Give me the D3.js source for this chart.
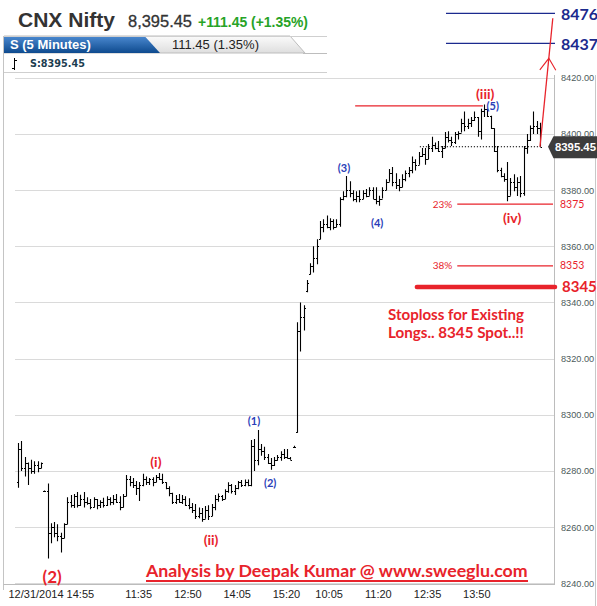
<!DOCTYPE html>
<html><head><meta charset="utf-8">
<script src="https://cdn.jsdelivr.net/npm/d3@7"></script>
<style>html,body{margin:0;padding:0;background:#fff;overflow:hidden}svg{display:block}</style>
</head><body><svg id="c" width="597" height="606"></svg>
<script>
// ---------- data ----------
const tickLabels = ["12/31/2014 14:55","11:35","12:50","14:05","15:20","10:05","11:20","12:35","13:50"];
const tickIndex  = [0,36,51,66,81,94,109,124,139];
const yTicks = [8240,8260,8280,8300,8320,8340,8360,8380,8400,8420];

const opens = [
8276,8288,8281,8283,8281,8280,8282,8281,8272.8,8272.8,
8258,8260,8258,8257,8256,8261,8269,8268,8271,8268,
8270,8269,8268.5,8267,8270,8268,8269,8268,8270,8269,
8270,8269,8267,8271,8277,8276,8275,8274,8275,8277,
8276,8277,8276,8278,8277,8276,8274,8272,8269,8270,
8269,8270,8268,8267,8266,8264,8265,8263,8266,8264,
8267,8270,8271,8270,8273,8275,8273,8274,8276,8275,
8276,8275,8289,8284,8288,8287,8285,8283,8282,8284,
8285,8286,8285,8284.5,8288.7,8294,8330,8335,8344,8350,
8353,8356,8362.5,8367,8368,8367,8369,8367,8368,8377,
8378,8380,8379,8377,8378,8377,8379,8378,8380,8377,
8376,8377,8380,8383,8386,8383,8382,8381,8384,8386,
8387,8390,8389,8392,8393,8391,8395,8396,8395,8394,
8395,8399,8398,8397,8400,8400.5,8404,8403,8404,8405,
8406,8401,8408,8409,8406.5,8402,8394,8387,8385,8384,
8378,8383,8381,8383,8379,8395,8398,8402,8403,8402];
const highs = [
8290,8290.7,8285,8283,8284,8283.5,8283.5,8283,8273,8275.5,
8261.4,8261.8,8261,8258,8261.4,8270.6,8271.4,8271.8,8272.5,8271.5,
8272.5,8270.6,8270,8270.6,8270,8269.6,8270.5,8271,8270.6,8271.4,
8271.8,8271,8271.8,8278.6,8278.2,8277.5,8276.4,8276.1,8279,8278,
8277.5,8277.8,8278.6,8279.3,8279,8276,8274.6,8272.2,8271.4,8271.8,
8271.4,8271,8270.3,8268.6,8268.2,8267,8266.8,8267.5,8267.8,8268.2,
8271.4,8272,8271.4,8273.5,8276,8275.4,8275,8276.4,8276.8,8277,
8277,8291,8291.4,8294.6,8289.6,8288.6,8286,8284.6,8285,8285.7,
8287,8287.8,8287.8,8285,8289,8333,8340,8339,8348,8354,
8360,8362.5,8369,8369.6,8371,8370,8369.6,8369.6,8377.5,8379.6,
8385,8383.2,8380,8379.6,8380,8380,8380.4,8381,8381,8381,
8378,8381,8383.9,8387.5,8388.2,8386,8384,8385.7,8387,8388.2,
8392,8391,8393.6,8395,8395,8396.4,8399,8397,8397.5,8395.7,
8400.7,8401,8399,8400.7,8401,8405.4,8408,8405.4,8406,8408,
8406,8409,8410.5,8409,8406.5,8402,8395.7,8388,8386,8390,
8384.3,8385.7,8384.6,8385,8395.7,8400,8403,8408,8404.6,8404];
const lows = [
8274,8280,8278,8275,8279,8279,8279.5,8281,8272.6,8248.8,
8254.3,8256.4,8255,8251,8256,8261,8267,8266.8,8267,8267.5,
8267,8268,8266.4,8267,8266.4,8266.8,8267,8267.5,8267.8,8268,
8268.6,8266,8267,8271,8274.6,8273.9,8271.4,8269.3,8274.6,8275,
8275,8274.6,8276,8276.8,8275.4,8273.5,8271,8268.2,8268.2,8268.6,
8268.2,8267.5,8266.4,8265,8262.9,8263.2,8261.9,8263,8262.5,8264,
8266,8269,8269.3,8270,8272.2,8272,8271.4,8273.5,8274.3,8274.6,
8274.6,8274.6,8280,8282,8285.4,8283.9,8282.5,8280.4,8281.8,8283.6,
8283.6,8284.3,8284.4,8284,8288.5,8293.6,8322.5,8330,8343.6,8350,
8350.7,8353.6,8362.5,8365,8366.4,8365.7,8366,8366.8,8367,8376.4,
8377.5,8377.5,8376,8375.7,8375.7,8376.8,8377.5,8378,8376.8,8375,
8374.4,8377,8380,8383,8381.4,8380.4,8379.6,8381,8383.2,8384.6,
8386,8387,8389,8391.8,8389,8391,8393.6,8394.6,8393.6,8391.4,
8395,8397,8395.7,8396.4,8398,8400.5,8401,8401.8,8402.5,8404.6,
8399,8398,8406,8406,8401.8,8393.6,8386.4,8384.6,8383,8376,
8378,8379.6,8377.9,8377.5,8378,8393,8397.5,8400,8400,8395.45];
const closes = [
8288,8281,8283,8281,8280,8282,8281,8282.7,8272.8,8258,
8260,8258,8257,8256,8261,8269,8268,8271,8268,8270,
8269,8268.5,8267,8270,8268,8269,8268,8270,8269,8270,
8269,8267,8271,8277,8276,8275,8274,8275,8277,8276,
8277,8276,8278,8277,8276,8274,8272,8269,8270,8269,
8270,8268,8267,8266,8264,8265,8263,8266,8264,8267,
8270,8271,8270,8273,8275,8273,8274,8276,8275,8276,
8275,8289,8284,8288,8287,8285,8283,8282,8284,8285,
8286,8285,8284.5,8284,8288.7,8330,8335,8338,8347,8353,
8356,8360,8367,8368,8367,8369,8367,8368,8377,8378,
8380,8379,8377,8378,8377,8379,8378,8380,8377,8376,
8377,8380,8383,8386,8383,8382,8381,8384,8386,8387,
8390,8389,8392,8393,8391,8395,8396,8395,8394,8395,
8399,8398,8397,8400,8400.5,8404,8403,8404,8405,8406,
8401,8408,8409,8406.5,8402,8394,8387,8385,8384,8378,
8383,8381,8383,8379,8395,8398,8402,8403,8402,8395.45];

const lastPrice = 8395.45;
const changeText = "+111.45 (+1.35%)";
const tabChange = "111.45 (1.35%)";
const waveIIIHigh = 8410;
const fibPct = ["23%","38%"];
const fibVal = [8375,8353];
const stopLoss = 8345;
const targets = [8476,8437];
// wave labels: text, bar index, price level (baseline), colour, size
const waveText  = ["(iii)","(5)","(3)","(4)","(1)","(2)","(i)","(ii)","(2)","(iv)"];
const waveIdx   = [142.3,144.6,99.3,109.4,71.9,76.8,42,58.8,10.4,150.5];
const waveVal   = [8412.5,8408.4,8386.5,8366.9,8296.4,8274.3,8281.4,8253.6,8240.1,8368.3];
const waveRed   = [true,false,false,false,false,false,true,true,true,true];
const waveSize  = [14,11,11,11,11,11,14,14,17,14];

// ---------- setup ----------
const RED = "#e8232b", BLUE = "#2a3db8", NAVY = "#1b2a8e";
const ARIAL = "'Liberation Sans', Arial, sans-serif";
const CAL = "Lato, 'Open Sans', sans-serif";
const svg = d3.select("#c");
svg.append("rect").attr("width",597).attr("height",606).attr("fill","#fff");

const n = opens.length;
const x = d3.scaleLinear().domain([0, n-1]).range([18, 540]);
const y = d3.scaleLinear().domain([8240, 8420]).range([583.3, 77.8]);
const yT = d3.scaleLinear().domain([8437, 8476]).range([43.3, 13.3]);

function fit(sel, w){ const cur=+sel.attr("font-size"); const m=sel.node().getComputedTextLength(); if(m>0) sel.attr("font-size", cur*w/m); return sel; }

// ---------- header ----------
fit(svg.append("text").attr("x",18).attr("y",27).attr("font-family",ARIAL).attr("font-weight","bold")
  .attr("font-size",21).attr("fill","#333").text("CNX Nifty"),97);
fit(svg.append("text").attr("x",128).attr("y",27).attr("font-family",ARIAL)
  .attr("font-size",16).attr("fill","#333").attr("stroke","#333").attr("stroke-width",0.3).text(d3.format(",.2f")(lastPrice)),64);
fit(svg.append("text").attr("x",198).attr("y",27).attr("font-family",ARIAL).attr("font-weight","bold")
  .attr("font-size",14).attr("fill","#27a327").text(changeText),110);

const defs = svg.append("defs");
const gb = defs.append("linearGradient").attr("id","gb").attr("x1",0).attr("y1",0).attr("x2",0).attr("y2",1);
gb.append("stop").attr("offset","0").attr("stop-color","#4a88cf");
gb.append("stop").attr("offset","1").attr("stop-color","#0e4a8e");
const gg = defs.append("linearGradient").attr("id","gg").attr("x1",0).attr("y1",0).attr("x2",0).attr("y2",1);
gg.append("stop").attr("offset","0").attr("stop-color","#fbfbfb");
gg.append("stop").attr("offset","1").attr("stop-color","#dedede");

svg.append("path").attr("d","M4,36H290L305,53H4Z").attr("fill","url(#gg)").attr("stroke","#bdbdbd").attr("stroke-width",1);
svg.append("path").attr("d","M4,36.5H145L160,53H4Z").attr("fill","url(#gb)");
svg.append("line").attr("x1",4).attr("x2",327).attr("y1",36.5).attr("y2",36.5).attr("stroke","#cfcfcf");
svg.append("line").attr("x1",303).attr("x2",327).attr("y1",53.5).attr("y2",53.5).attr("stroke","#bdbdbd");
svg.append("text").attr("x",10).attr("y",49).attr("font-family",ARIAL).attr("font-weight","bold")
  .attr("font-size",13).attr("fill","#fff").text("S (5 Minutes)");
svg.append("text").attr("x",172).attr("y",49).attr("font-family",ARIAL)
  .attr("font-size",13).attr("fill","#222").text(tabChange);
// legend row
svg.append("path").attr("d","M14.5,58V70M12,68.5H14.5M14.5,60.5H17").attr("stroke","#000").attr("fill","none");
fit(svg.append("text").attr("x",30).attr("y",67).attr("font-family","'DejaVu Sans', Verdana, sans-serif").attr("font-weight","bold")
  .attr("font-size",9.5).attr("fill","#1c3d4f").text("S:" + lastPrice.toFixed(2)),55);
svg.append("line").attr("x1",4).attr("x2",327).attr("y1",72.5).attr("y2",72.5).attr("stroke","#cfcfcf");

// ---------- frame & grid ----------
svg.append("line").attr("x1",3.5).attr("x2",3.5).attr("y1",36).attr("y2",590).attr("stroke","#c4c4c4");
svg.selectAll("line.grid").data(yTicks).join("line").attr("class","grid")
  .attr("x1",15).attr("x2",554).attr("y1",d=>Math.round(y(d))+0.5).attr("y2",d=>Math.round(y(d))+0.5)
  .attr("stroke","#dadada");
svg.append("line").attr("x1",3.5).attr("x2",554.5).attr("y1",584.5).attr("y2",584.5).attr("stroke","#bcbcbc");
svg.append("line").attr("x1",554.5).attr("x2",554.5).attr("y1",75).attr("y2",585).attr("stroke","#bcbcbc");
svg.append("line").attr("x1",595.5).attr("x2",595.5).attr("y1",75).attr("y2",606).attr("stroke","#c8c8c8");

// y axis labels
const ya = svg.append("g").attr("transform","translate(560,0)")
  .call(d3.axisRight(y).tickValues(yTicks).tickFormat(d3.format(".2f")).tickSize(0).tickPadding(1));
ya.select(".domain").remove();
ya.selectAll("text").attr("font-family",ARIAL).attr("font-size",9.2).attr("fill","#4d5b5b");

// x axis labels
const xa = svg.append("g").attr("transform","translate(2,590)")
  .call(d3.axisBottom(x).tickValues(tickIndex).tickFormat((d,k)=>tickLabels[k]).tickSize(0).tickPadding(0));
xa.select(".domain").remove();
xa.selectAll("text").attr("font-family",ARIAL).attr("font-size",11).attr("fill","#222").attr("dy","0.76em");
xa.selectAll("text").filter((d,k)=>k===0).attr("text-anchor","start").attr("dx", -(x(0)-6));

// ---------- OHLC bars ----------
const bars = d3.range(n).map(i=>({i,o:opens[i],h:highs[i],l:lows[i],c:closes[i]}));
svg.append("g").selectAll("path").data(bars).join("path")
  .attr("d", d=>{
    const cx = Math.round(x(d.i))+0.5;
    let yh = y(d.h), yl = y(d.l);
    if (yl - yh < 1.2) { const m=(yh+yl)/2; yh=m-0.6; yl=m+0.6; }
    return `M${cx},${yh}V${yl}M${cx-1.5},${Math.round(y(d.o))+0.5}H${cx}M${cx},${Math.round(y(d.c))+0.5}H${cx+1.5}`;
  })
  .attr("fill","none").attr("stroke","#000").attr("stroke-width",1.1);

// last price dotted line
svg.append("line").attr("x1",x(122.4)).attr("x2",x(n-1)).attr("y1",y(lastPrice)).attr("y2",y(lastPrice))
  .attr("stroke","#000").attr("stroke-dasharray","1.2,1.8");

// price tag
const ty = y(lastPrice);
svg.append("path").attr("d",`M548,${ty}L553.5,${ty-10.5}H597V${ty+11.5}H553.5Z`).attr("fill","#3d3d3d");
fit(svg.append("text").attr("x",555).attr("y",ty+4.5).attr("font-family",ARIAL).attr("font-weight","bold")
  .attr("font-size",12).attr("fill","#fff").text(lastPrice.toFixed(2)),41);

// ---------- annotations ----------
// wave (iii) level
svg.append("line").attr("x1",x(102.7)).attr("x2",x(141.6)).attr("y1",y(waveIIIHigh)).attr("y2",y(waveIIIHigh))
  .attr("stroke",RED).attr("stroke-width",1.2);
// fib levels
fibVal.forEach((v,k)=>{
  const yy = y(v);
  svg.append("line").attr("x1",x(133.8)).attr("x2",553).attr("y1",yy).attr("y2",yy).attr("stroke",RED).attr("stroke-width",1.2);
  svg.append("text").attr("x",x(133.8)-5).attr("y",yy+3.5).attr("text-anchor","end").attr("font-family",CAL)
    .attr("font-size",10).attr("fill",RED).text(fibPct[k]);
  svg.append("text").attr("x",560).attr("y",yy+3.5).attr("font-family",CAL)
    .attr("font-size",10.5).attr("fill",RED).text(v);
});
// stop loss
svg.append("line").attr("x1",x(121.5)).attr("x2",555).attr("y1",y(stopLoss)-1.5).attr("y2",y(stopLoss)-1.5)
  .attr("stroke",RED).attr("stroke-width",4.5).attr("stroke-linecap","round");
svg.append("text").attr("x",562).attr("y",y(stopLoss)+4).attr("font-family",CAL).attr("font-weight","bold")
  .attr("font-size",15).attr("fill",RED).text(stopLoss);
fit(svg.append("text").attr("x",388).attr("y",319.5).attr("font-family",CAL).attr("font-weight","bold")
  .attr("font-size",14).attr("fill",RED).text("Stoploss for Existing"),136);
fit(svg.append("text").attr("x",388).attr("y",337.5).attr("font-family",CAL).attr("font-weight","bold")
  .attr("font-size",14).attr("fill",RED).text("Longs.. " + stopLoss + " Spot..!!"),136);

// targets
targets.forEach(v=>{
  svg.append("line").attr("x1",446).attr("x2",555).attr("y1",yT(v)).attr("y2",yT(v)).attr("stroke",NAVY).attr("stroke-width",1.2);
  svg.append("text").attr("x",561).attr("y",yT(v)+6.5).attr("font-family",CAL).attr("font-weight","bold")
    .attr("font-size",16).attr("fill",NAVY).text(v);
});
// arrow from last close toward target
const ax0 = x(n-1), ay0 = y(lastPrice), ax1 = 552.8, ay1 = yT(targets[0])+5;
svg.append("line").attr("x1",ax0).attr("y1",ay0).attr("x2",ax1).attr("y2",ay1).attr("stroke",RED).attr("stroke-width",1.3);
const tipY = yT(targets[1])+15, tipX = ax0 + (ax1-ax0)*(ay0-tipY)/(ay0-ay1);
svg.append("path").attr("d",`M${tipX-9},${tipY+11.5}L${tipX},${tipY}L${tipX+7},${tipY+12}`)
  .attr("fill","none").attr("stroke",RED).attr("stroke-width",1.1);

// wave labels
waveText.forEach((t,k)=>{
  svg.append("text").attr("x",x(waveIdx[k])).attr("y",y(waveVal[k])).attr("text-anchor","middle")
    .attr("font-family",CAL).attr("font-weight", "bold")
    .attr("font-size",waveSize[k]).attr("fill",waveRed[k]?RED:BLUE).text(t);
});

// credit
fit(svg.append("text").attr("x",146).attr("y",577).attr("font-family",CAL).attr("font-weight","bold")
  .attr("font-size",17).attr("fill",RED).text("Analysis by Deepak Kumar @ www.sweeglu.com"),382);
svg.append("line").attr("x1",146).attr("x2",528).attr("y1",581).attr("y2",581).attr("stroke",RED).attr("stroke-width",2);
</script></body></html>
